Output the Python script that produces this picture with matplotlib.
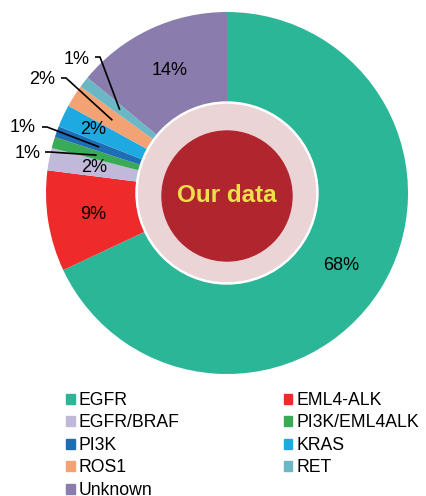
import numpy as np
import matplotlib
matplotlib.use("Agg")
import matplotlib.pyplot as plt
from matplotlib.patches import Circle, Patch

plt.rcParams['font.family'] = ['Liberation Sans', 'DejaVu Sans']

# data (percent of cases), in pie order, clockwise from 12 o'clock
genes = ['EGFR', 'EML4-ALK', 'EGFR/BRAF', 'PI3K/EML4ALK', 'PI3K',
         'KRAS', 'ROS1', 'RET', 'Unknown']
pct = [68, 9, 2, 1, 1, 2, 2, 1, 14]
colors = ['#2bb697', '#ee2a2a', '#c0b9d9', '#39aa55', '#1e6db5',
          '#1fa9e1', '#f2a273', '#6bb7c6', '#8b7cae']
inside = ['EGFR', 'EML4-ALK', 'EGFR/BRAF', 'KRAS', 'Unknown']
outside = ['PI3K/EML4ALK', 'PI3K', 'ROS1', 'RET']
# legend order as printed (two columns, read across)
legend_order = ['EGFR', 'EGFR/BRAF', 'PI3K', 'ROS1', 'Unknown',
                'EML4-ALK', 'PI3K/EML4ALK', 'KRAS', 'RET']

W, H = 427, 496
fig = plt.figure(figsize=(W / 100, H / 100), dpi=100)
ax = fig.add_axes([0, 0, 1, 1])

cx, cy, R = 227, 303, 181
wedges, _ = ax.pie(pct, colors=colors, startangle=90, counterclock=False,
                   center=(cx, cy), radius=R, frame=True,
                   wedgeprops=dict(linewidth=0))
ax.set_xlim(0, W)
ax.set_ylim(0, H)
ax.set_aspect('equal')
ax.axis('off')

def mid_point(w, frac):
    a = np.deg2rad((w.theta1 + w.theta2) / 2)
    return cx + frac * R * np.cos(a), cy + frac * R * np.sin(a)

dist = {'KRAS': 0.82}
for g, w, p in zip(genes, wedges, pct):
    if g in inside:
        x, y = mid_point(w, dist.get(g, 0.75))
        ax.text(x, y, f'{p}%', ha='center', va='center', fontsize=13)

# outside labels: text centre and start of leader line (pixels from top-left)
out_pos = {'RET': ((77, 59), (95, 57)),
           'ROS1': ((42, 79), (61, 78)),
           'PI3K': ((23, 128), (42, 127)),
           'PI3K/EML4ALK': ((28, 153), (45, 152))}
for g, w, p in zip(genes, wedges, pct):
    if g in outside:
        (tx, ty), (lx, ly) = out_pos[g]
        ax.text(tx, H - ty, f'{p}%', ha='center', va='center', fontsize=13)
        ex, ey = mid_point(w, 0.75)
        ax.plot([lx, lx + 5, ex], [H - ly, H - ly, ey], color='black', lw=1.2,
                solid_capstyle='butt')

# centre disc
ax.add_patch(Circle((cx, cy), 91, color='white', zorder=3))
ax.add_patch(Circle((cx, cy), 88.5, color='#ead4d5', zorder=4))
ax.add_patch(Circle((cx, cy - 3), 65, color='#b1262e', zorder=5))
ax.text(cx, cy - 3, 'Our data', ha='center', va='center', fontsize=17.5,
        fontweight='bold', color='#ede04a', zorder=6)

cmap = dict(zip(genes, colors))
handles = [Patch(color=cmap[g], label=g) for g in legend_order]
fig.legend(handles=handles, ncol=2, loc='upper left',
           bbox_to_anchor=(66 / W, 1 - 392 / H), frameon=False,
           fontsize=12.7, handlelength=0.5, handleheight=0.5,
           handletextpad=0.22, columnspacing=5.9, labelspacing=0.31,
           borderpad=0, borderaxespad=0)

fig.savefig('out.png', dpi=100)
